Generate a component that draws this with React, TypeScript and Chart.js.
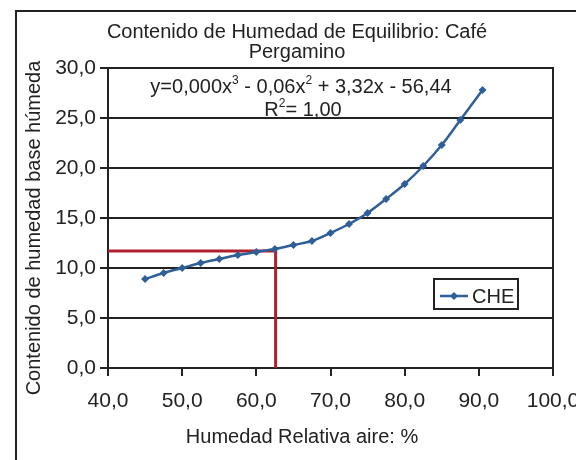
import React, { useEffect, useRef } from "react";
import { Chart, registerables } from "chart.js";

Chart.register(...registerables);

const TITLE_LINES = ["Contenido de Humedad de Equilibrio: Café", "Pergamino"];
const X_TITLE = "Humedad Relativa aire: %";
const Y_TITLE = "Contenido de humedad base húmeda";
const SERIES_LABEL = "CHE";
const EQUATION = ["y=0,000x", "3", " - 0,06x", "2", " + 3,32x - 56,44"];
const R2 = ["R", "2", "= 1,00"];

const humedadRelativa = [45.0, 47.5, 50.0, 52.5, 55.0, 57.5, 60.0, 62.5, 65.0, 67.5, 70.0, 72.5, 75.0, 77.5, 80.0, 82.5, 85.0, 87.5, 90.5];
const che = [8.9, 9.5, 10.0, 10.5, 10.9, 11.3, 11.6, 11.9, 12.3, 12.7, 13.5, 14.4, 15.5, 16.9, 18.4, 20.2, 22.3, 24.8, 27.8];

const refX = [40, 62.6, 62.6];
const refY = [11.7, 11.7, 0];

const X_MIN = 40, X_MAX = 100, X_STEP = 10;
const Y_MIN = 0, Y_MAX = 30, Y_STEP = 5;

const FONT = "'Liberation Sans', Arial, sans-serif";
const TEXT = "#222";
const BLUE = "#2f5f98";
const RED = "#b01f2e";

function fmt(v: number) {
  return v.toFixed(1).replace(".", ",");
}

function drawRich(ctx: CanvasRenderingContext2D, parts: string[], cx: number, baseline: number, size: number, supSize: number) {
  let total = 0;
  parts.forEach((p, i) => {
    ctx.font = `${i % 2 === 1 ? supSize : size}px ${FONT}`;
    total += ctx.measureText(p).width;
  });
  let x = cx - total / 2;
  ctx.textAlign = "left";
  ctx.textBaseline = "alphabetic";
  parts.forEach((p, i) => {
    const sup = i % 2 === 1;
    ctx.font = `${sup ? supSize : size}px ${FONT}`;
    ctx.fillText(p, x, sup ? baseline - size * 0.45 : baseline);
    x += ctx.measureText(p).width;
  });
}

const decor = {
  id: "decor",
  beforeDraw(chart: any) {
    const ctx = chart.ctx;
    ctx.save();
    ctx.fillStyle = "#fff";
    ctx.fillRect(0, 0, chart.width, chart.height);
    ctx.strokeStyle = "#222";
    ctx.lineWidth = 2;
    ctx.strokeRect(16, 11, 600, 500);
    ctx.restore();
  },
  afterDatasetsDraw(chart: any) {
    const ctx = chart.ctx;
    const a = chart.chartArea;
    ctx.save();
    ctx.strokeStyle = "#222";
    ctx.lineWidth = 2;
    ctx.beginPath();
    ctx.moveTo(a.left, a.top);
    ctx.lineTo(a.right, a.top);
    ctx.lineTo(a.right, a.bottom);
    ctx.stroke();

    ctx.fillStyle = TEXT;
    ctx.font = `20px ${FONT}`;
    ctx.textAlign = "center";
    ctx.textBaseline = "alphabetic";
    ctx.fillText(TITLE_LINES[0], 297, 38);
    ctx.fillText(TITLE_LINES[1], 297, 58);

    drawRich(ctx, EQUATION, 301, 93, 20, 12);
    drawRich(ctx, R2, 303, 116, 20, 12);

    ctx.font = `20px ${FONT}`;
    ctx.textAlign = "center";
    ctx.fillText(X_TITLE, 302, 443);
    ctx.save();
    ctx.translate(40, 228);
    ctx.rotate(-Math.PI / 2);
    ctx.fillText(Y_TITLE, 0, 0);
    ctx.restore();

    const lx = 434, ly = 279, lw = 84, lh = 30;
    ctx.fillStyle = "#fff";
    ctx.fillRect(lx, ly, lw, lh);
    ctx.strokeStyle = "#222";
    ctx.lineWidth = 2;
    ctx.strokeRect(lx, ly, lw, lh);
    ctx.strokeStyle = BLUE;
    ctx.lineWidth = 2.5;
    ctx.beginPath();
    ctx.moveTo(440, 296);
    ctx.lineTo(468, 296);
    ctx.stroke();
    ctx.fillStyle = BLUE;
    ctx.beginPath();
    ctx.moveTo(454, 292);
    ctx.lineTo(458, 296);
    ctx.lineTo(454, 300);
    ctx.lineTo(450, 296);
    ctx.closePath();
    ctx.fill();
    ctx.fillStyle = TEXT;
    ctx.font = `20px ${FONT}`;
    ctx.textAlign = "left";
    ctx.fillText(chart.data.datasets[0].label, 472, 303);
    ctx.restore();
  },
};

export default function App() {
  const ref = useRef<HTMLCanvasElement>(null);
  useEffect(() => {
    if (!ref.current) return;
    const chart = new Chart(ref.current, {
      type: "scatter",
      data: {
        datasets: [
          {
            label: SERIES_LABEL,
            data: humedadRelativa.map((x, i) => ({ x, y: che[i] })),
            showLine: true,
            borderColor: BLUE,
            backgroundColor: BLUE,
            borderWidth: 2.5,
            tension: 0.3,
            pointStyle: "rectRot",
            pointRadius: 4,
            pointBorderWidth: 0,
            order: 1,
          },
          {
            label: "ref",
            data: refX.map((x, i) => ({ x, y: refY[i] })),
            showLine: true,
            borderColor: RED,
            backgroundColor: RED,
            borderWidth: 3,
            pointRadius: 0,
            tension: 0,
            order: 2,
          },
        ],
      },
      options: {
        animation: false,
        responsive: false,
        layout: { padding: { left: 0, right: 23, top: 68, bottom: 0 } },
        plugins: { legend: { display: false }, title: { display: false }, tooltip: { enabled: false } },
        scales: {
          x: {
            type: "linear",
            min: X_MIN,
            max: X_MAX,
            afterFit: (s: any) => { s.height = 92; s.paddingLeft = 0; s.paddingRight = 0; },
            ticks: { stepSize: X_STEP, callback: (v: any) => fmt(Number(v)), font: { size: 21, family: FONT }, color: TEXT, padding: 13, maxRotation: 0 },
            grid: { drawOnChartArea: false, drawTicks: true, tickLength: 8, color: "#222", lineWidth: 2 },
            border: { display: true, color: "#222", width: 2 },
          },
          y: {
            type: "linear",
            min: Y_MIN,
            max: Y_MAX,
            afterFit: (s: any) => { s.width = 108; },
            ticks: { stepSize: Y_STEP, callback: (v: any) => fmt(Number(v)), font: { size: 21, family: FONT }, color: TEXT, padding: 4 },
            grid: { drawOnChartArea: true, drawTicks: true, tickLength: 8, color: "#222", lineWidth: 2 },
            border: { display: true, color: "#222", width: 2 },
          },
        },
      },
      plugins: [decor],
    });
    return () => chart.destroy();
  }, []);
  return (
    <div style={{ position: "fixed", left: 0, top: 0, width: 576, height: 460, overflow: "hidden" }}>
      <canvas ref={ref} width={576} height={460} style={{ display: "block" }} />
    </div>
  );
}
